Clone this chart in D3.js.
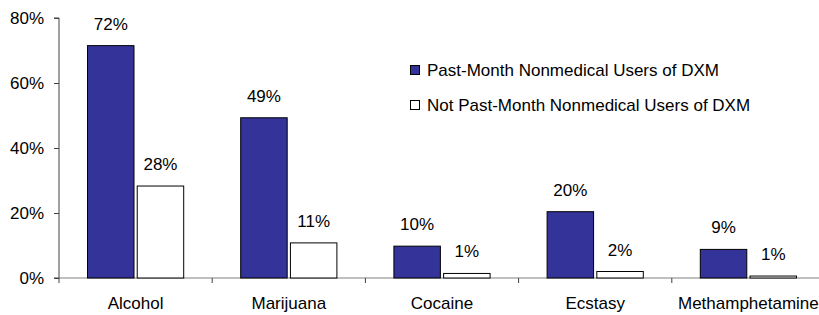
<!DOCTYPE html>
<html>
<head>
<meta charset="utf-8">
<script src="https://cdn.jsdelivr.net/npm/d3@7"></script>
<style>
  body { margin: 0; background: #fff; }
  svg { display: block; font-family: 'Liberation Sans', Arial, sans-serif; }
</style>
</head>
<body>
<div id="chart"></div>
<script>
// data
const categories = ['Alcohol', 'Marijuana', 'Cocaine', 'Ecstasy', 'Methamphetamine'];
const seriesNames = ['Past-Month Nonmedical Users of DXM', 'Not Past-Month Nonmedical Users of DXM'];
const pastMonth = [71.5, 49.3, 9.8, 20.4, 8.8];
const notPastMonth = [28.3, 10.8, 1.4, 2.0, 0.6];
const yTicks = [0, 20, 40, 60, 80];

const colors = ['#333399', '#ffffff'];

const W = 819, H = 315;
const margin = {top: 18, right: 0, bottom: 37, left: 59};
const bandW = 153.2;
const plotH = H - margin.top - margin.bottom;
const fontSize = '17px';

const svg = d3.select('#chart').append('svg')
  .attr('width', W)
  .attr('height', H);

const g = svg.append('g')
  .attr('transform', 'translate(' + margin.left + ',' + margin.top + ')');

// x: one band per category, axis runs off the right edge like the original
const x = d3.scaleBand()
  .domain(categories)
  .range([0, bandW * categories.length])
  .paddingInner(0)
  .paddingOuter(0);

const x1 = d3.scaleBand()
  .domain([0, 1])
  .range([28, bandW - 28])
  .paddingInner(0.045);

const y = d3.scaleLinear().domain([0, 80]).range([plotH, 0]);

// y axis
const yAxis = g.append('g')
  .call(d3.axisLeft(y).tickValues(yTicks).tickSize(5).tickPadding(10).tickFormat(d => d + '%'));
yAxis.select('.domain').attr('stroke', '#404040').attr('d', 'M-5,' + y(80) + 'H0V' + y(0) + 'H-5');
yAxis.selectAll('.tick line').attr('stroke', '#404040');
yAxis.selectAll('.tick text').attr('font-size', fontSize).attr('fill', '#000');

// x axis (ticks at category boundaries)
const xAxisG = g.append('g').attr('transform', 'translate(0,' + plotH + ')');
xAxisG.append('line')
  .attr('x1', 0).attr('x2', bandW * categories.length)
  .attr('stroke', '#808080');
xAxisG.selectAll('line.tk')
  .data(categories)
  .enter().append('line')
  .attr('class', 'tk')
  .attr('x1', d => x(d)).attr('x2', d => x(d))
  .attr('y1', 0).attr('y2', 5)
  .attr('stroke', '#404040');
xAxisG.selectAll('text.cat')
  .data(categories)
  .enter().append('text')
  .attr('class', 'cat')
  .attr('x', d => x(d) + x.bandwidth() / 2)
  .attr('y', 31)
  .attr('text-anchor', 'middle')
  .attr('font-size', fontSize)
  .text(d => d);

// bars
const rows = categories.map((c, i) => ({cat: c, vals: [pastMonth[i], notPastMonth[i]]}));

const groups = g.selectAll('g.cat')
  .data(rows)
  .enter().append('g')
  .attr('class', 'cat')
  .attr('transform', d => 'translate(' + x(d.cat) + ',0)');

groups.selectAll('rect')
  .data(d => d.vals.map((v, k) => ({k: k, v: v})))
  .enter().append('rect')
  .attr('x', d => x1(d.k) + 0.5)
  .attr('y', d => y(d.v))
  .attr('width', x1.bandwidth() - 1)
  .attr('height', d => y(0) - y(d.v))
  .attr('fill', d => colors[d.k])
  .attr('stroke', '#000')
  .attr('stroke-width', 1);

groups.selectAll('text')
  .data(d => d.vals.map((v, k) => ({k: k, v: v})))
  .enter().append('text')
  .attr('x', d => x1(d.k) + x1.bandwidth() / 2)
  .attr('y', d => y(d.v) - 16)
  .attr('text-anchor', 'middle')
  .attr('font-size', fontSize)
  .text(d => d3.format('.0f')(d.v) + '%');

// legend
const legend = svg.append('g').attr('transform', 'translate(410,65)');
seriesNames.forEach((name, i) => {
  const row = legend.append('g').attr('transform', 'translate(0,' + i * 35 + ')');
  row.append('rect')
    .attr('x', 0.5).attr('y', 0.5)
    .attr('width', 9).attr('height', 9)
    .attr('fill', colors[i])
    .attr('stroke', '#000');
  row.append('text')
    .attr('x', 17)
    .attr('y', 5)
    .attr('dy', '0.35em')
    .attr('font-size', fontSize)
    .text(name);
});
</script>
</body>
</html>
